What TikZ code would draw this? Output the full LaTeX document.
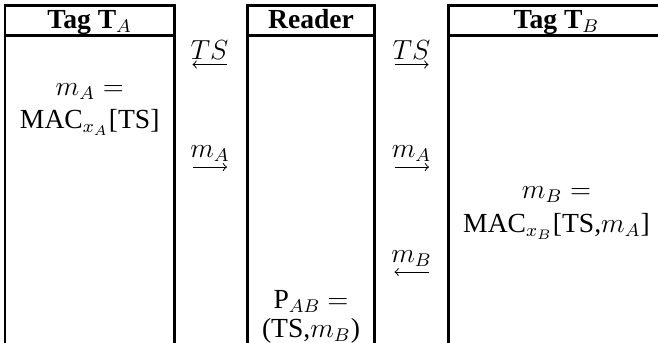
\documentclass[tikz,border=0pt]{standalone}
\usepackage{fontspec}
\setmainfont{Liberation Serif}
\tikzset{
  rulebox/.style={line width=1.15pt, line cap=rect},
  txt/.style={anchor=base, inner sep=0pt, font=\fontsize{12pt}{14.4pt}\selectfont},
  hdr/.style={txt, font=\fontsize{12pt}{14.4pt}\selectfont\bfseries},
  msg/.style={line width=0.42pt, -to},
}
\begin{document}
\begin{tikzpicture}[x=0.4348pt, y=-0.4348pt]
\useasboundingbox (0,0) rectangle (658,342);
\clip (0,0) rectangle (658,342);
% columns
\draw[rulebox] (5,360) -- (5,5.5) -- (174.5,5.5) -- (174.5,360);
\draw[rulebox] (5,35.5) -- (174.5,35.5);
\draw[rulebox] (247.5,360) -- (247.5,5.5) -- (374.5,5.5) -- (374.5,360);
\draw[rulebox] (247.5,35.5) -- (374.5,35.5);
\draw[rulebox] (448.5,360) -- (448.5,5.5) -- (680,5.5) -- (680,360);
\draw[rulebox] (448.5,35.5) -- (680,35.5);
% headers
\node[hdr] (hA) at (89.75,28) {Tag T$_A$};
\node[hdr] (hR) at (311,28) {Reader};
\node[hdr] (hB) at (556.5,28) {Tag T$_B$};
% cell texts
\node[txt] (mA1) at (89.75,95) {$m_A =$};
\node[txt] (mA2) at (89.75,128) {MAC$_{x_A}$[TS]};
\node[txt] (mB1) at (556.5,198) {$m_B =$};
\node[txt] (mB2) at (556.5,232) {MAC$_{x_B}$[TS,$m_A$]};
\node[txt] (P1) at (311,308) {P$_{AB}$ $=$};
\node[txt] (P2) at (311,337) {(TS,$m_B$)};
% messages gap 1
\node[txt] (l1) at (209.5,59) {$TS$};
\coordinate (a1r) at (226.5,64.5); \coordinate (a1l) at (192.5,64.5);
\draw[msg] (a1r) -- (a1l);
\node[txt] (l2) at (210,157) {$m_A$};
\coordinate (a2l) at (192.5,167); \coordinate (a2r) at (227,167);
\draw[msg] (a2l) -- (a2r);
% messages gap 2
\node[txt] (l3) at (411.5,59) {$TS$};
\coordinate (a3l) at (394.5,64.5); \coordinate (a3r) at (428.5,64.5);
\draw[msg] (a3l) -- (a3r);
\node[txt] (l4) at (411.5,157) {$m_A$};
\coordinate (a4l) at (394.5,167); \coordinate (a4r) at (429,167);
\draw[msg] (a4l) -- (a4r);
\node[txt] (l5) at (411.5,262) {$m_B$};
\coordinate (a5r) at (429,272); \coordinate (a5l) at (394.5,272);
\draw[msg] (a5r) -- (a5l);
\end{tikzpicture}
\end{document}
